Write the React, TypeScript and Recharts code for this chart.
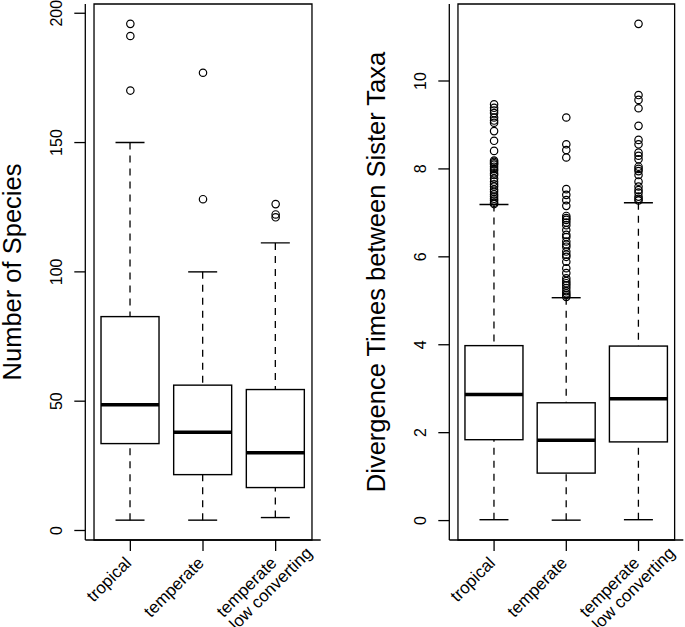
import React from "react";
import { ComposedChart, Bar, Scatter, XAxis, YAxis, ReferenceArea } from "recharts";

const groups = ["tropical", "temperate", "temperate\nlow converting"];

// Number of species per genus
const speciesLow = [4.0, 4.0, 5.0];
const speciesQ1 = [33.6, 21.6, 16.6];
const speciesMed = [48.6, 38.0, 30.1];
const speciesQ3 = [82.7, 56.2, 54.5];
const speciesHigh = [150, 100, 111.2];
const speciesOut = [
  [195.9, 191.2, 170.1],
  [177.0, 128.1],
  [126.2, 122.2, 121.1],
];
const speciesTicks = [0, 50, 100, 150, 200];

// Divergence times between sister taxa
const divLow = [0.02, 0.01, 0.02];
const divQ1 = [1.84, 1.08, 1.79];
const divMed = [2.87, 1.83, 2.77];
const divQ3 = [3.98, 2.68, 3.97];
const divHigh = [7.19, 5.07, 7.23];
const divOut = [
  [9.47, 9.39, 9.33, 9.27, 9.17, 9.1, 9.05, 8.86, 8.64, 8.41, 8.19, 8.16, 8.13, 8.1, 8.05, 8.0, 7.96, 7.9, 7.86, 7.78, 7.71, 7.65, 7.6, 7.53, 7.48, 7.42, 7.37, 7.32, 7.28, 7.23, 7.2],
  [9.17, 8.56, 8.43, 8.26, 7.54, 7.41, 7.29, 7.16, 6.93, 6.88, 6.84, 6.78, 6.72, 6.61, 6.5, 6.45, 6.35, 6.28, 6.23, 6.12, 6.05, 6.0, 5.89, 5.74, 5.63, 5.51, 5.45, 5.4, 5.35, 5.29, 5.22, 5.17, 5.13, 5.09],
  [11.3, 9.68, 9.57, 9.38, 8.98, 8.66, 8.56, 8.37, 8.3, 8.22, 8.05, 8.0, 7.95, 7.86, 7.71, 7.6, 7.52, 7.46, 7.37, 7.32, 7.28],
];
const divTicks = [0, 2, 4, 6, 8, 10];

const FONT = "'Liberation Sans', Arial, Helvetica, sans-serif";
const INK = "#000";

let measureCtx: CanvasRenderingContext2D | null = null;
const textWidth = (s: string, size: number) => {
  if (!measureCtx) measureCtx = document.createElement("canvas").getContext("2d");
  if (!measureCtx) return s.length * size * 0.5;
  measureCtx.font = `${size}px ${FONT}`;
  return measureCtx.measureText(s).width;
};

const BoxShape = (props: any) => {
  const { x, y, width, height, payload } = props;
  const top = Math.min(y, y + height);
  const bottom = Math.max(y, y + height);
  const { low, q1, med, q3, high } = payload;
  const toY = (v: number) => top + ((high - v) / (high - low)) * (bottom - top);
  const cx = x + width / 2;
  const cap = width / 4;
  return (
    <g>
      <line x1={cx} x2={cx} y1={toY(high)} y2={toY(q3)} stroke={INK} strokeWidth={1.3} strokeDasharray="7 6" />
      <line x1={cx} x2={cx} y1={toY(low)} y2={toY(q1)} stroke={INK} strokeWidth={1.3} strokeDasharray="7 6" />
      <line x1={cx - cap} x2={cx + cap} y1={toY(high)} y2={toY(high)} stroke={INK} strokeWidth={1.4} />
      <line x1={cx - cap} x2={cx + cap} y1={toY(low)} y2={toY(low)} stroke={INK} strokeWidth={1.4} />
      <rect x={x} y={toY(q3)} width={width} height={toY(q1) - toY(q3)} fill="#fff" stroke={INK} strokeWidth={1.4} />
      <line x1={x} x2={x + width} y1={toY(med)} y2={toY(med)} stroke={INK} strokeWidth={3.5} />
    </g>
  );
};

const Circle = (props: any) => (
  <circle cx={props.cx} cy={props.cy} r={3.7} fill="none" stroke={INK} strokeWidth={1.2} />
);

const YTick = (props: any) => {
  const { x, y, payload } = props;
  return (
    <text transform={`translate(${x - 12},${y}) rotate(-90)`} textAnchor="middle" fontSize={16} fontFamily={FONT} fill={INK}>
      {payload.value}
    </text>
  );
};

const XTick = (props: any) => {
  const { x, y, payload } = props;
  const lines = String(payload.value).split("\n");
  const w0 = textWidth(lines[0], 17);
  return (
    <g transform={`translate(${x + 2},${y + 13}) rotate(-45)`}>
      <text x={0} y={0} textAnchor="end" fontSize={17} fontFamily={FONT} fill={INK}>
        {lines[0]}
      </text>
      {lines.length > 1 && (
        <text x={-w0} y={18} textAnchor="start" fontSize={17} fontFamily={FONT} fill={INK}>
          {lines[1]}
        </text>
      )}
    </g>
  );
};

const Title = (props: any) => {
  const vb = props.viewBox || {};
  const bx = (vb.x ?? 0) + (vb.width ?? 0) - 64.5;
  const by = (vb.y ?? 4) + (vb.height ?? 536) / 2;
  return (
    <text transform={`translate(${bx},${by}) rotate(-90)`} textAnchor="middle" fontSize={25.5} fontFamily={FONT} fill={INK}>
      {props.text}
    </text>
  );
};

type PanelProps = {
  width: number;
  axisWidth: number;
  rightMargin: number;
  title: string;
  ticks: number[];
  low: number[];
  q1: number[];
  med: number[];
  q3: number[];
  high: number[];
  out: number[][];
};

const Panel = ({ width, axisWidth, rightMargin, title, ticks, low, q1, med, q3, high, out }: PanelProps) => {
  const rows = groups.map((name, i) => ({
    name,
    range: [low[i], high[i]],
    low: low[i],
    q1: q1[i],
    med: med[i],
    q3: q3[i],
    high: high[i],
  }));
  const points = groups.flatMap((name, i) => out[i].map((value) => ({ name, value })));
  const all = [...low, ...high, ...out.flat()];
  const lo = Math.min(...all);
  const hi = Math.max(...all);
  const ext = (hi - lo) * 0.04;
  const domain = [lo - ext, hi + ext];
  const plotW = width - axisWidth - rightMargin;
  const pad = (plotW * 0.12) / 3.24;

  return (
    <ComposedChart width={width} height={627} data={rows} margin={{ top: 4, right: rightMargin, bottom: 0, left: 0 }}>
      <XAxis
        xAxisId="main"
        dataKey="name"
        type="category"
        allowDuplicatedCategory={false}
        padding={{ left: pad, right: pad }}
        height={87}
        interval={0}
        tickSize={11}
        tickMargin={0}
        tick={<XTick />}
        axisLine={{ stroke: INK, strokeWidth: 1.3 }}
        tickLine={{ stroke: INK, strokeWidth: 1.3 }}
      />
      <YAxis
        yAxisId="main"
        type="number"
        domain={domain}
        ticks={ticks}
        allowDataOverflow
        width={axisWidth}
        tickSize={11}
        tickMargin={0}
        tick={<YTick />}
        axisLine={{ stroke: INK, strokeWidth: 1.3 }}
        tickLine={{ stroke: INK, strokeWidth: 1.3 }}
        label={<Title text={title} />}
      />
      <ReferenceArea
        xAxisId="main"
        yAxisId="main"
        y1={domain[0]}
        y2={domain[1]}
        ifOverflow="visible"
        fill="none"
        fillOpacity={0}
        stroke={INK}
        strokeWidth={1.3}
      />
      <Bar xAxisId="main" yAxisId="main" dataKey="range" barSize={58} shape={<BoxShape />} isAnimationActive={false} />
      <Scatter xAxisId="main" yAxisId="main" data={points} dataKey="value" shape={<Circle />} isAnimationActive={false} />
    </ComposedChart>
  );
};

export default function App() {
  return (
    <div style={{ position: "absolute", left: 0, top: 0, width: 685, height: 627, display: "flex", background: "#fff" }}>
      <Panel
        width={340}
        axisWidth={85.3}
        rightMargin={19.3}
        title="Number of Species"
        ticks={speciesTicks}
        low={speciesLow}
        q1={speciesQ1}
        med={speciesMed}
        q3={speciesQ3}
        high={speciesHigh}
        out={speciesOut}
      />
      <Panel
        width={345}
        axisWidth={109.3}
        rightMargin={1.7}
        title="Divergence Times between Sister Taxa"
        ticks={divTicks}
        low={divLow}
        q1={divQ1}
        med={divMed}
        q3={divQ3}
        high={divHigh}
        out={divOut}
      />
    </div>
  );
}
